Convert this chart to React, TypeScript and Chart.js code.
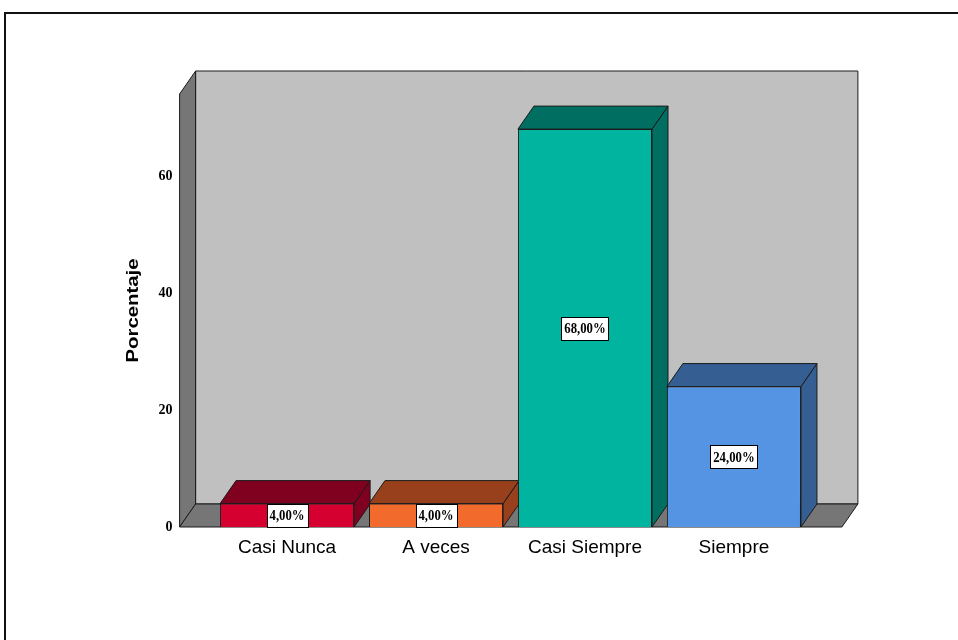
import React, { useEffect, useRef } from "react";
import { Chart, registerables } from "chart.js";

Chart.register(...registerables);

// Frequency table (percent) per response category
const categories = ["Casi Nunca", "A veces", "Casi Siempre", "Siempre"];
const percentages = [4, 4, 68, 24];
const valueLabels = ["4,00%", "4,00%", "68,00%", "24,00%"];
const yTicks = [0, 20, 40, 60];
const yMax = 74;
const axisTitle = "Porcentaje";

// Front faces and shaded depth faces of each bar
const frontColors = ["#D60030", "#F26A2C", "#00B4A0", "#5494E2"];
const depthColors = ["#80001F", "#98401C", "#006E61", "#355E92"];

// Oblique projection of the depth axis
const DEPTH_X = 16;
const DEPTH_Y = -23;
const WALL_PAD_L = 33;
const WALL_PAD_R = 33.5;
const EDGE = "#1b1b1b";

function poly(ctx: CanvasRenderingContext2D, pts: number[][], fill: string) {
  ctx.beginPath();
  ctx.moveTo(pts[0][0], pts[0][1]);
  for (let i = 1; i < pts.length; i++) ctx.lineTo(pts[i][0], pts[i][1]);
  ctx.closePath();
  ctx.fillStyle = fill;
  ctx.fill();
  ctx.strokeStyle = EDGE;
  ctx.lineWidth = 1;
  ctx.stroke();
}

const frame3d = {
  id: "frame3d",
  beforeDraw(chart: any) {
    const { ctx, width, height } = chart;
    ctx.save();
    ctx.fillStyle = "#ffffff";
    ctx.fillRect(0, 0, width, height);
    // outer border of the output panel
    ctx.fillStyle = "#111111";
    ctx.fillRect(4, 12, width - 4, 2);
    ctx.fillRect(4, 12, 2, height - 12);
    ctx.restore();
  },
  beforeDatasetsDraw(chart: any) {
    const { ctx, chartArea: a } = chart;
    const L = a.left - WALL_PAD_L;
    const R = a.right + WALL_PAD_R;
    const T = a.top;
    const B = a.bottom;
    const dx = DEPTH_X;
    const dy = DEPTH_Y;
    ctx.save();
    // back wall
    poly(ctx, [[L + dx, T + dy], [R + dx, T + dy], [R + dx, B + dy], [L + dx, B + dy]], "#C0C0C0");
    // side wall
    poly(ctx, [[L, T], [L + dx, T + dy], [L + dx, B + dy], [L, B]], "#767676");
    // floor
    poly(ctx, [[L, B], [R, B], [R + dx, B + dy], [L + dx, B + dy]], "#767676");
    // top and right faces of each bar
    const meta = chart.getDatasetMeta(0);
    meta.data.forEach((bar: any, i: number) => {
      const { x, y, base, width } = bar.getProps(["x", "y", "base", "width"], true);
      const l = x - width / 2;
      const r = x + width / 2;
      poly(ctx, [[r, y], [r + dx, y + dy], [r + dx, base + dy], [r, base]], depthColors[i]);
      poly(ctx, [[l, y], [r, y], [r + dx, y + dy], [l + dx, y + dy]], depthColors[i]);
    });
    ctx.restore();
  },
  afterDatasetsDraw(chart: any) {
    const { ctx } = chart;
    const meta = chart.getDatasetMeta(0);
    ctx.save();
    ctx.font = "bold 15px 'Liberation Serif', 'Times New Roman', serif";
    ctx.textAlign = "center";
    ctx.textBaseline = "middle";
    const squeeze = 0.85;
    meta.data.forEach((bar: any, i: number) => {
      const { x, y, base } = bar.getProps(["x", "y", "base"], true);
      const cy = (y + base) / 2;
      const text = valueLabels[i];
      const w = Math.round(ctx.measureText(text).width * squeeze + 6);
      const h = 23;
      const bx = Math.round(x - w / 2) + 0.5;
      const by = Math.round(cy - h / 2) + 0.5;
      ctx.fillStyle = "#ffffff";
      ctx.fillRect(bx, by, w, h);
      ctx.strokeStyle = "#000000";
      ctx.lineWidth = 1;
      ctx.strokeRect(bx, by, w, h);
      ctx.save();
      ctx.translate(x, cy + 1);
      ctx.scale(squeeze, 1);
      ctx.fillStyle = "#000000";
      ctx.fillText(text, 0, 0);
      ctx.restore();
    });
    ctx.restore();
  },
  afterDraw(chart: any) {
    const { ctx, chartArea: a } = chart;
    ctx.save();
    ctx.font = "bold 16px 'Liberation Sans', Arial, sans-serif";
    ctx.fillStyle = "#000000";
    ctx.textAlign = "center";
    ctx.textBaseline = "middle";
    const cx = a.left - 79;
    const cy = (a.top + a.bottom) / 2;
    ctx.translate(cx, cy);
    ctx.rotate(-Math.PI / 2);
    const tw = ctx.measureText(axisTitle).width;
    ctx.scale(104 / tw, 1);
    ctx.fillText(axisTitle, 0, 0);
    ctx.restore();
  },
};

export default function App() {
  const canvasRef = useRef<HTMLCanvasElement | null>(null);

  useEffect(() => {
    if (!canvasRef.current) return;
    const chart = new Chart(canvasRef.current, {
      type: "bar",
      data: {
        labels: categories,
        datasets: [
          {
            data: percentages,
            backgroundColor: frontColors,
            borderColor: EDGE,
            borderWidth: 1,
            barPercentage: 0.9,
            categoryPercentage: 1,
          },
        ],
      },
      options: {
        responsive: false,
        animation: false,
        events: [],
        layout: { padding: { left: 152.6, right: 149.6, top: 94, bottom: 53 } },
        plugins: {
          legend: { display: false },
          tooltip: { enabled: false },
          title: { display: false },
        },
        scales: {
          x: {
            grid: { display: false, drawTicks: false },
            border: { display: false },
            ticks: {
              color: "#000000",
              font: { family: "'Liberation Sans', Arial, sans-serif", size: 19 },
              padding: 9,
              maxRotation: 0,
              autoSkip: false,
            },
            afterFit: (s: any) => {
              s.height = 60;
            },
          },
          y: {
            min: 0,
            max: yMax,
            grid: { display: false, drawTicks: false },
            border: { display: false },
            ticks: {
              color: "#000000",
              font: { family: "'Liberation Serif', 'Times New Roman', serif", size: 14, weight: "bold" },
              padding: 40,
            },
            afterBuildTicks: (s: any) => {
              s.ticks = yTicks.map((v) => ({ value: v }));
            },
            afterFit: (s: any) => {
              s.width = 60;
            },
          },
        },
      },
      plugins: [frame3d],
    });
    return () => chart.destroy();
  }, []);

  return (
    <div style={{ position: "absolute", left: 0, top: 0, width: 958, height: 640 }}>
      <canvas ref={canvasRef} width={958} height={640} />
    </div>
  );
}
